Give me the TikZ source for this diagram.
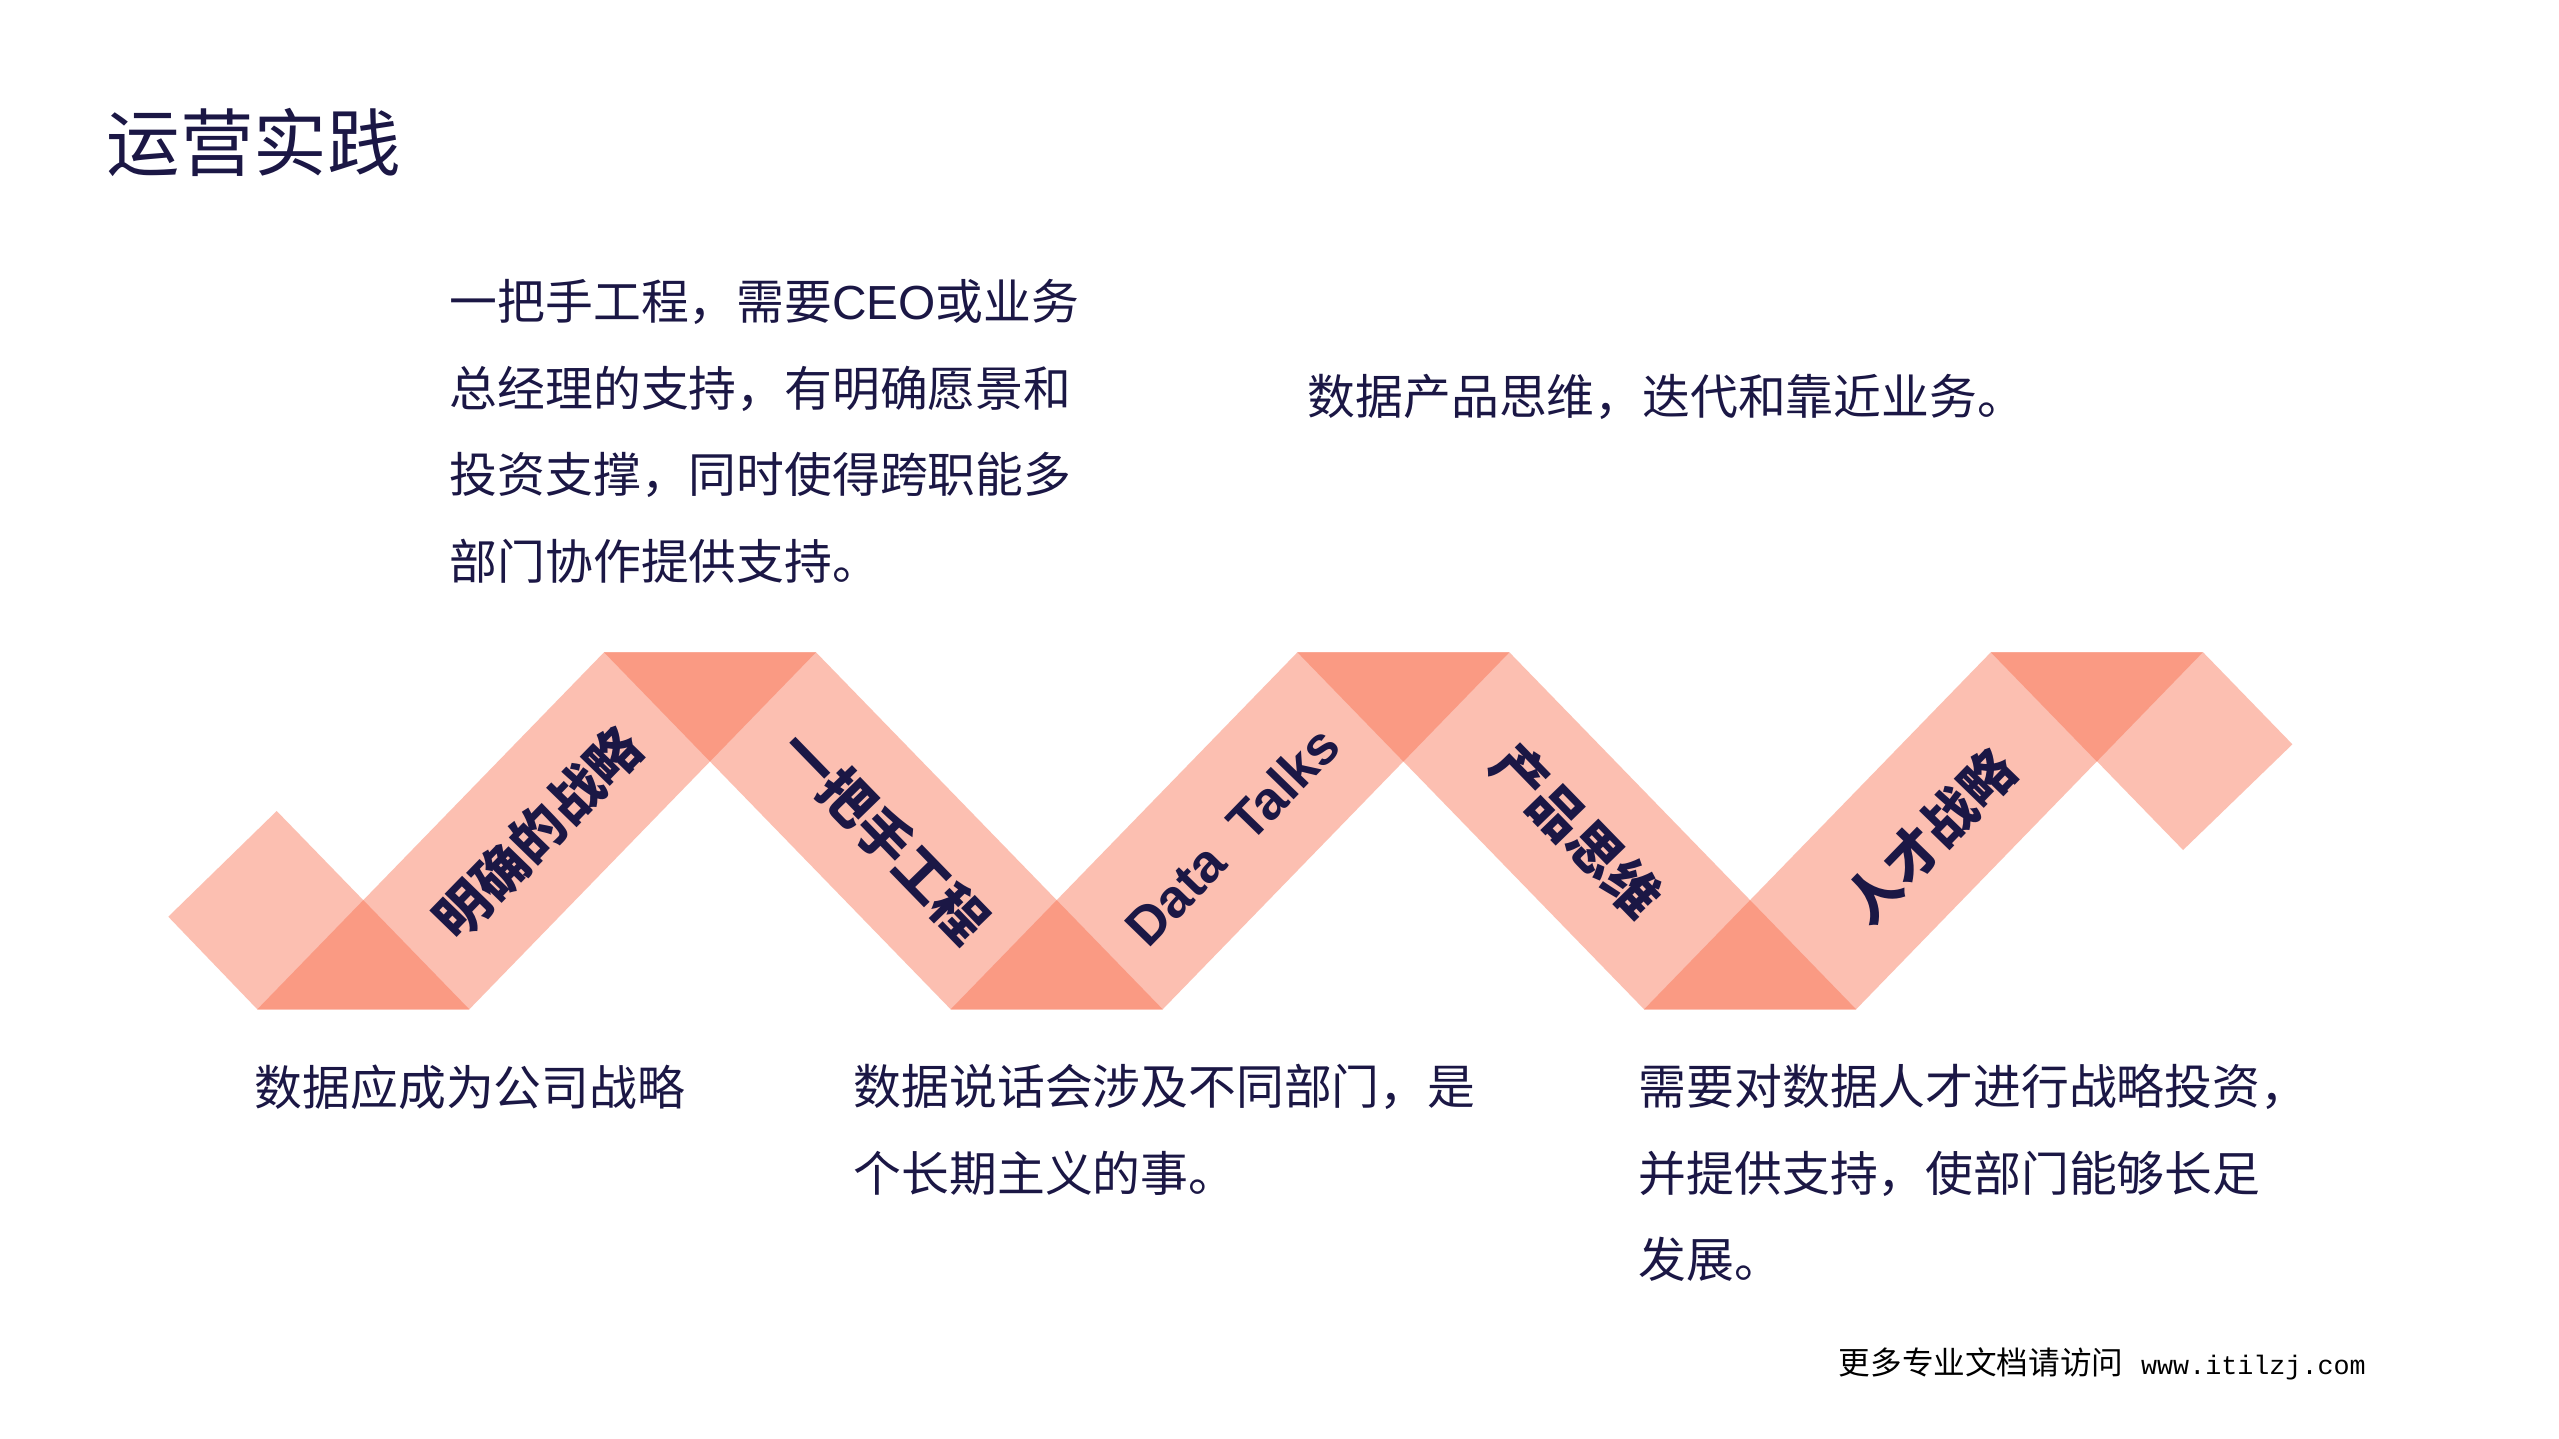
\documentclass[tikz,border=0pt]{standalone}
\usepackage{fontspec}
\setmainfont{Noto Sans CJK SC}
\newfontfamily\latinfont{Liberation Sans}
\newfontfamily\urlfont{Liberation Mono}
\definecolor{navy}{HTML}{1B1745}
\definecolor{ribbon}{HTML}{FCBFB1}
\definecolor{fold}{HTML}{FA9A83}
\begin{document}
\begin{tikzpicture}[x=0.01cm,y=-0.01cm,
		lbl/.style={text=navy,font=\bfseries\fontsize{15.3}{16}\selectfont,inner sep=0},
		txt/.style={text=navy,font=\fontsize{13.6}{24.6}\selectfont,align=left,anchor=west,inner sep=0}]
				\useasboundingbox[fill=white] (0,0) rectangle (2559,1439);
				\node[text=navy,font=\fontsize{20.9}{24}\selectfont,anchor=west,inner sep=0] (title) at (106,142) {运营实践};
				\fill[ribbon] (168.3,916.7) -- (276.7,811) -- (469.3,1009.3) -- (257.3,1009.3) -- cycle;
				\foreach \i in {0,1,2}
					\fill[ribbon] ({257.3+\i*693.4},1009.3) -- ++(212,0) -- ++(346.7,-357) -- ++(-212,0) -- cycle;
				\foreach \j in {0,1}
					\fill[ribbon] ({604+\j*693.4},652.3) -- ++(212,0) -- ++(346.7,357) -- ++(-212,0) -- cycle;
				\fill[ribbon] (1991.1,652.3) -- (2203.1,652.3) -- (2292.4,744.3) -- (2183.1,850) -- cycle;
				\foreach \k in {0,1,2}{
					\fill[fold] ({257.3+\k*693.4},1009.3) -- ++(212,0) -- ++(-106,-109.2) -- cycle;
					\fill[fold] ({604+\k*693.4},652.3) -- ++(212,0) -- ++(-106,109.2) -- cycle;
				}
				\node[lbl,rotate=45.83] (strategy) at (538,833) {明确的战略};
				\node[lbl,rotate=-45.83] (leader) at (885,836) {一把手工程};
				\node[lbl,rotate=45.83] (talks) at (1232,836) {\latinfont Data\ \ Talks};
				\node[lbl,rotate=-45.83] (product) at (1576.8,830.8) {产品思维};
				\node[lbl,rotate=45.83] (talent) at (1930,836) {人才战略};
				\node[txt] (leadertxt) at (449,431.5) {一把手工程，需要{\latinfont CEO}或业务\\总经理的支持，有明确愿景和\\投资支撑，同时使得跨职能多\\部门协作提供支持。};
				\node[txt] (producttxt) at (1307,396.6) {数据产品思维，迭代和靠近业务。};
				\node[txt] (strategytxt) at (254,1087) {数据应成为公司战略};
				\node[txt] (talkstxt) at (853,1130) {数据说话会涉及不同部门，是\\个长期主义的事。};
				\node[txt] (talenttxt) at (1638,1173) {需要对数据人才进行战略投资，\\并提供支持，使部门能够长足\\发展。};
				\node[anchor=west,inner sep=0,text=black,font=\fontsize{9}{11}\selectfont] (footer) at (1838,1364) {更多专业文档请访问\hspace{5pt}{\urlfont\fontsize{7.6}{11}\selectfont www.itilzj.com}};
		\end{tikzpicture}
\end{document}
